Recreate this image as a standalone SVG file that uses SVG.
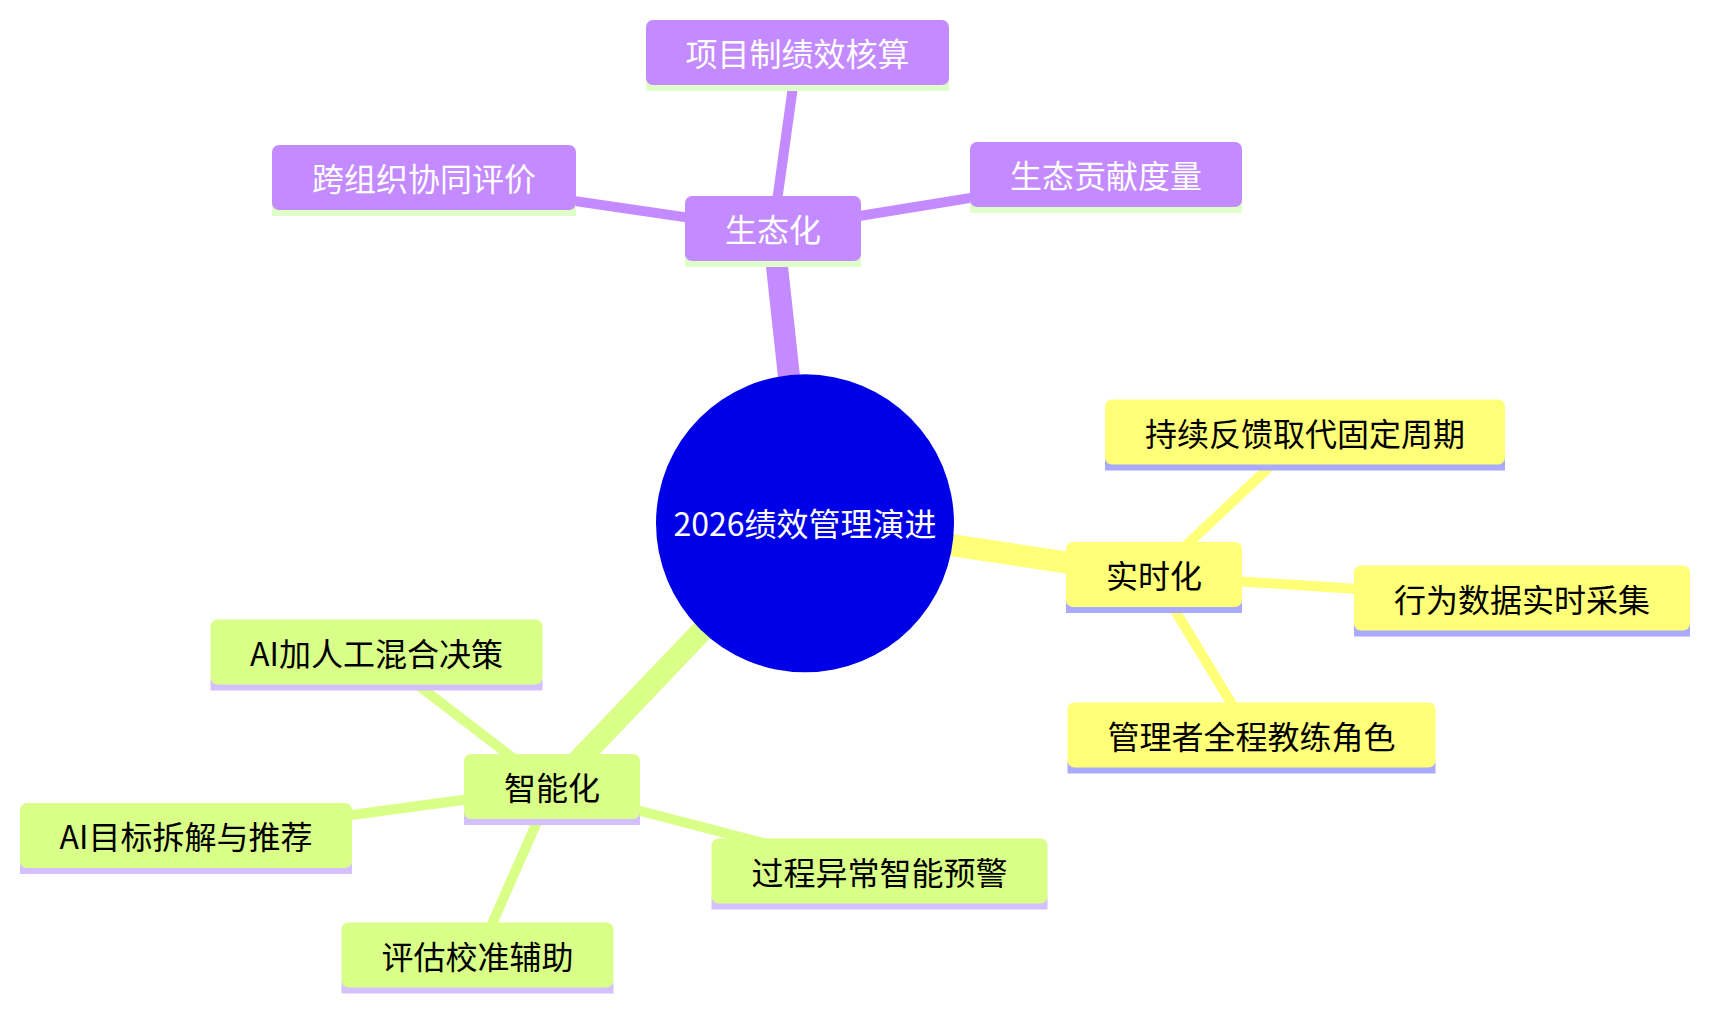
<svg xmlns="http://www.w3.org/2000/svg" width="1709" height="1010" viewBox="0 0 1709 1010">
<style>
text{font-family:"Noto Sans CJK SC","Noto Sans",sans-serif;font-size:32px;text-anchor:middle}
.root{fill:#0000e8}
.rt{fill:#ffffff}
.p{fill:#c48aff}.pl{fill:#e0ffc8}.pt{fill:#ffffff}
.y{fill:#ffff78}.yl{fill:#aaaaff}.yt{fill:#000000}
.g{fill:#d9ff88}.gl{fill:#d4c0ff}.gt{fill:#000000}
.e0{stroke-width:22;fill:none}
.e1{stroke-width:10;fill:none}
.ep{stroke:#c48aff}.ey{stroke:#ffff78}.eg{stroke:#d9ff88}
</style>
<rect width="1709" height="1010" fill="#ffffff"/>
<g id="edges">
<line class="e0 ep" x1="805" y1="523" x2="773" y2="230"/>
<line class="e1 ep" x1="773" y1="230" x2="797.5" y2="54"/>
<line class="e1 ep" x1="773" y1="230" x2="424" y2="179"/>
<line class="e1 ep" x1="773" y1="230" x2="1106" y2="176"/>
<line class="e0 ey" x1="805" y1="523" x2="1154" y2="575.7"/>
<line class="e1 ey" x1="1154" y1="575.7" x2="1305" y2="433.5"/>
<line class="e1 ey" x1="1154" y1="575.7" x2="1522" y2="599.7"/>
<line class="e1 ey" x1="1154" y1="575.7" x2="1251.5" y2="736.7"/>
<line class="e0 eg" x1="805" y1="523" x2="552" y2="788"/>
<line class="e1 eg" x1="552" y1="788" x2="376.5" y2="653.3"/>
<line class="e1 eg" x1="552" y1="788" x2="186" y2="837.3"/>
<line class="e1 eg" x1="552" y1="788" x2="477.5" y2="956.7"/>
<line class="e1 eg" x1="552" y1="788" x2="879.7" y2="873.3"/>
</g>
<g id="root">
<circle class="root" cx="805" cy="523.3" r="149"/>
<text class="rt" x="805" y="535.5">2026绩效管理演进</text>
</g>
<g id="n-shengtai">
<rect class="pl" x="685" y="255" width="176" height="12"/>
<rect class="p" x="685" y="196" width="176" height="65" rx="7"/>
<text class="pt" x="773" y="242">生态化</text>
</g>
<g id="n-xiangmu">
<rect class="pl" x="646" y="79" width="303" height="12"/>
<rect class="p" x="646" y="20" width="303" height="65" rx="7"/>
<text class="pt" x="797.5" y="66">项目制绩效核算</text>
</g>
<g id="n-kuazuzhi">
<rect class="pl" x="272" y="204" width="304" height="12"/>
<rect class="p" x="272" y="145" width="304" height="65" rx="7"/>
<text class="pt" x="424" y="191">跨组织协同评价</text>
</g>
<g id="n-gongxian">
<rect class="pl" x="970" y="201" width="272" height="12"/>
<rect class="p" x="970" y="142" width="272" height="65" rx="7"/>
<text class="pt" x="1106" y="188">生态贡献度量</text>
</g>
<g id="n-shishi">
<rect class="yl" x="1066" y="601" width="176" height="12"/>
<rect class="y" x="1066" y="542" width="176" height="65" rx="7"/>
<text class="yt" x="1154" y="588">实时化</text>
</g>
<g id="n-chixu">
<rect class="yl" x="1105" y="458.5" width="400" height="12"/>
<rect class="y" x="1105" y="399.5" width="400" height="65" rx="7"/>
<text class="yt" x="1305" y="445.5">持续反馈取代固定周期</text>
</g>
<g id="n-xingwei">
<rect class="yl" x="1354" y="624.5" width="336" height="12"/>
<rect class="y" x="1354" y="565.5" width="336" height="65" rx="7"/>
<text class="yt" x="1522" y="611.5">行为数据实时采集</text>
</g>
<g id="n-guanli">
<rect class="yl" x="1067.5" y="761.5" width="368" height="12"/>
<rect class="y" x="1067.5" y="702.5" width="368" height="65" rx="7"/>
<text class="yt" x="1251.5" y="748.5">管理者全程教练角色</text>
</g>
<g id="n-zhineng">
<rect class="gl" x="464" y="813" width="176" height="12"/>
<rect class="g" x="464" y="754" width="176" height="65" rx="7"/>
<text class="gt" x="552" y="800">智能化</text>
</g>
<g id="n-aijia">
<rect class="gl" x="210.5" y="678.5" width="332" height="12"/>
<rect class="g" x="210.5" y="619.5" width="332" height="65" rx="7"/>
<text class="gt" x="376.5" y="665.5">AI加人工混合决策</text>
</g>
<g id="n-aimubiao">
<rect class="gl" x="20" y="862" width="332" height="12"/>
<rect class="g" x="20" y="803" width="332" height="65" rx="7"/>
<text class="gt" x="186" y="849">AI目标拆解与推荐</text>
</g>
<g id="n-pinggu">
<rect class="gl" x="341.5" y="981.5" width="272" height="12"/>
<rect class="g" x="341.5" y="922.5" width="272" height="65" rx="7"/>
<text class="gt" x="477.5" y="968.5">评估校准辅助</text>
</g>
<g id="n-guocheng">
<rect class="gl" x="711.5" y="897.5" width="336" height="12"/>
<rect class="g" x="711.5" y="838.5" width="336" height="65" rx="7"/>
<text class="gt" x="879.5" y="884.5">过程异常智能预警</text>
</g>
</svg>
